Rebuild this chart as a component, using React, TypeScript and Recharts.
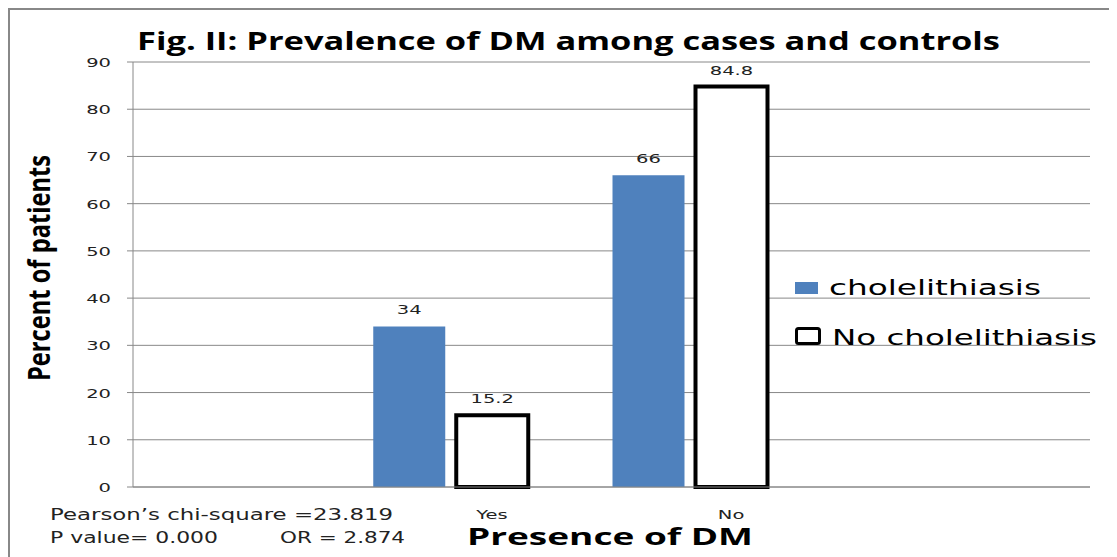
import { BarChart, Bar, XAxis, YAxis, CartesianGrid, LabelList } from "recharts";

// four category slots as in the original sheet; first and last are empty
const categories = ["", "Yes", "No", ""];
const cholelithiasis = [null, 34, 66, null];
const noCholelithiasis = [null, 15.2, 84.8, null];
// an empty third series kept in the sheet, it only takes up room
const spare = [null, null, null, null];
const yTicks = [0, 10, 20, 30, 40, 50, 60, 70, 80, 90];
const edgeTicks = [0, 1, 2, 3, 4];

const data = categories.map((name, i) => ({
  idx: i,
  name,
  chole: cholelithiasis[i],
  noChole: noCholelithiasis[i],
  spare: spare[i],
}));

const W = 1109;
const H = 549;
// the source picture is stretched sideways, so small text gets scaled in x
const STRETCH = 1.5;
const smallFont = { fontFamily: "DejaVu Sans", fontSize: 13, fill: "#222" };

const legendItems = [
  { label: "cholelithiasis", hollow: false, len: 212 },
  { label: "No cholelithiasis", hollow: true, len: 265 },
];

function WideText({ x, y, anchor, children }: any) {
  return (
    <text
      transform={`translate(${x}, ${y}) scale(${STRETCH}, 1)`}
      textAnchor={anchor}
      {...smallFont}
    >
      {children}
    </text>
  );
}

function YTick({ x, y, payload }: any) {
  return (
    <WideText x={x} y={y + 5} anchor="end">
      {payload.value}
    </WideText>
  );
}

function XTick({ x, y, payload }: any) {
  return (
    <WideText x={x} y={y + 20} anchor="middle">
      {categories[payload.value]}
    </WideText>
  );
}

function BarValue({ x, y, width, value }: any) {
  if (value == null) return null;
  return (
    <WideText x={x + width / 2} y={y - 12} anchor="middle">
      {value}
    </WideText>
  );
}

function LegendBox() {
  return (
    <svg width={330} height={90} style={{ position: "absolute", left: 784, top: 266 }}>
      {legendItems.map((it, i) => (
        <g key={it.label} transform={`translate(0, ${i * 44})`}>
          {it.hollow ? (
            <rect x={4.5} y={10.5} width={23} height={15} rx={2} fill="#fff" stroke="#000" strokeWidth={3} />
          ) : (
            <rect x={3} y={8} width={23} height={12} fill="#4F81BD" />
          )}
          <text
            x={it.hollow ? 40 : 37}
            y={it.hollow ? 27 : 21}
            fontFamily="DejaVu Sans"
            fontSize={22}
            fill="#000"
            textLength={it.len}
            lengthAdjust="spacingAndGlyphs"
          >
            {it.label}
          </text>
        </g>
      ))}
    </svg>
  );
}

export default function App() {
  return (
    <div style={{ position: "relative", width: W, height: H, background: "#fff" }}>
      <BarChart
        width={W}
        height={H}
        data={data}
        margin={{ top: 54, right: 27, left: 0, bottom: 30 }}
        barCategoryGap={0}
        barGap={11}
        barSize={72}
      >
        <CartesianGrid vertical={false} stroke="#888" />
        <XAxis
          xAxisId="edges"
          dataKey="idx"
          type="number"
          domain={[0, 4]}
          ticks={edgeTicks}
          allowDataOverflow
          tick={false}
          tickLine={{ stroke: "#888" }}
          tickSize={6}
          axisLine={false}
          height={1}
        />
        <XAxis
          dataKey="idx"
          tickLine={false}
          axisLine={{ stroke: "#888" }}
          tick={<XTick />}
          tickSize={6}
          tickMargin={6}
          height={39}
          interval={0}
          label={{
            content: () => (
              <text
                x={459}
                y={537}
                fontFamily="Open Sans"
                fontWeight={700}
                fontSize={24}
                fill="#000"
                textLength={286}
                lengthAdjust="spacingAndGlyphs"
              >
                Presence of DM
              </text>
            ),
          }}
        />
        <YAxis
          domain={[0, 90]}
          ticks={yTicks}
          width={125}
          tick={<YTick />}
          tickLine={{ stroke: "#888" }}
          tickSize={6}
          tickMargin={16}
          axisLine={{ stroke: "#888" }}
          label={{
            content: () => (
              <text
                transform="translate(42, 260) rotate(-90)"
                textAnchor="middle"
                fontFamily="Open Sans"
                fontWeight={700}
                fontSize={30}
                fill="#000"
                textLength={226}
                lengthAdjust="spacingAndGlyphs"
              >
                Percent of patients
              </text>
            ),
          }}
        />
        <Bar dataKey="chole" name="cholelithiasis" fill="#4F81BD" isAnimationActive={false}>
          <LabelList dataKey="chole" content={<BarValue />} />
        </Bar>
        <Bar
          dataKey="noChole"
          name="No cholelithiasis"
          fill="#fff"
          stroke="#000"
          strokeWidth={4}
          isAnimationActive={false}
        >
          <LabelList dataKey="noChole" content={<BarValue />} />
        </Bar>
        <Bar dataKey="spare" fill="none" legendType="none" isAnimationActive={false} />
      </BarChart>
      <LegendBox />
      <svg
        width={W}
        height={H}
        style={{ position: "absolute", left: 0, top: 0, pointerEvents: "none" }}
      >
        <line x1={1} y1={0} x2={1} y2={H} stroke="#888" strokeWidth={2} />
        <line x1={0} y1={1} x2={W} y2={1} stroke="#888" strokeWidth={2} />
        <text
          x={129}
          y={42}
          fontFamily="Open Sans"
          fontWeight={700}
          fontSize={25}
          fill="#000"
          textLength={863}
          lengthAdjust="spacingAndGlyphs"
        >
          Fig. II: Prevalence of DM among cases and controls
        </text>
        <g fontFamily="DejaVu Sans" fontSize={15} fill="#222">
          <text x={42} y={512} textLength={343} lengthAdjust="spacingAndGlyphs">
            Pearson’s chi-square =23.819
          </text>
          <text x={42} y={535} textLength={168} lengthAdjust="spacingAndGlyphs">
            P value= 0.000
          </text>
          <text x={272} y={535} textLength={125} lengthAdjust="spacingAndGlyphs">
            OR = 2.874
          </text>
        </g>
      </svg>
    </div>
  );
}
